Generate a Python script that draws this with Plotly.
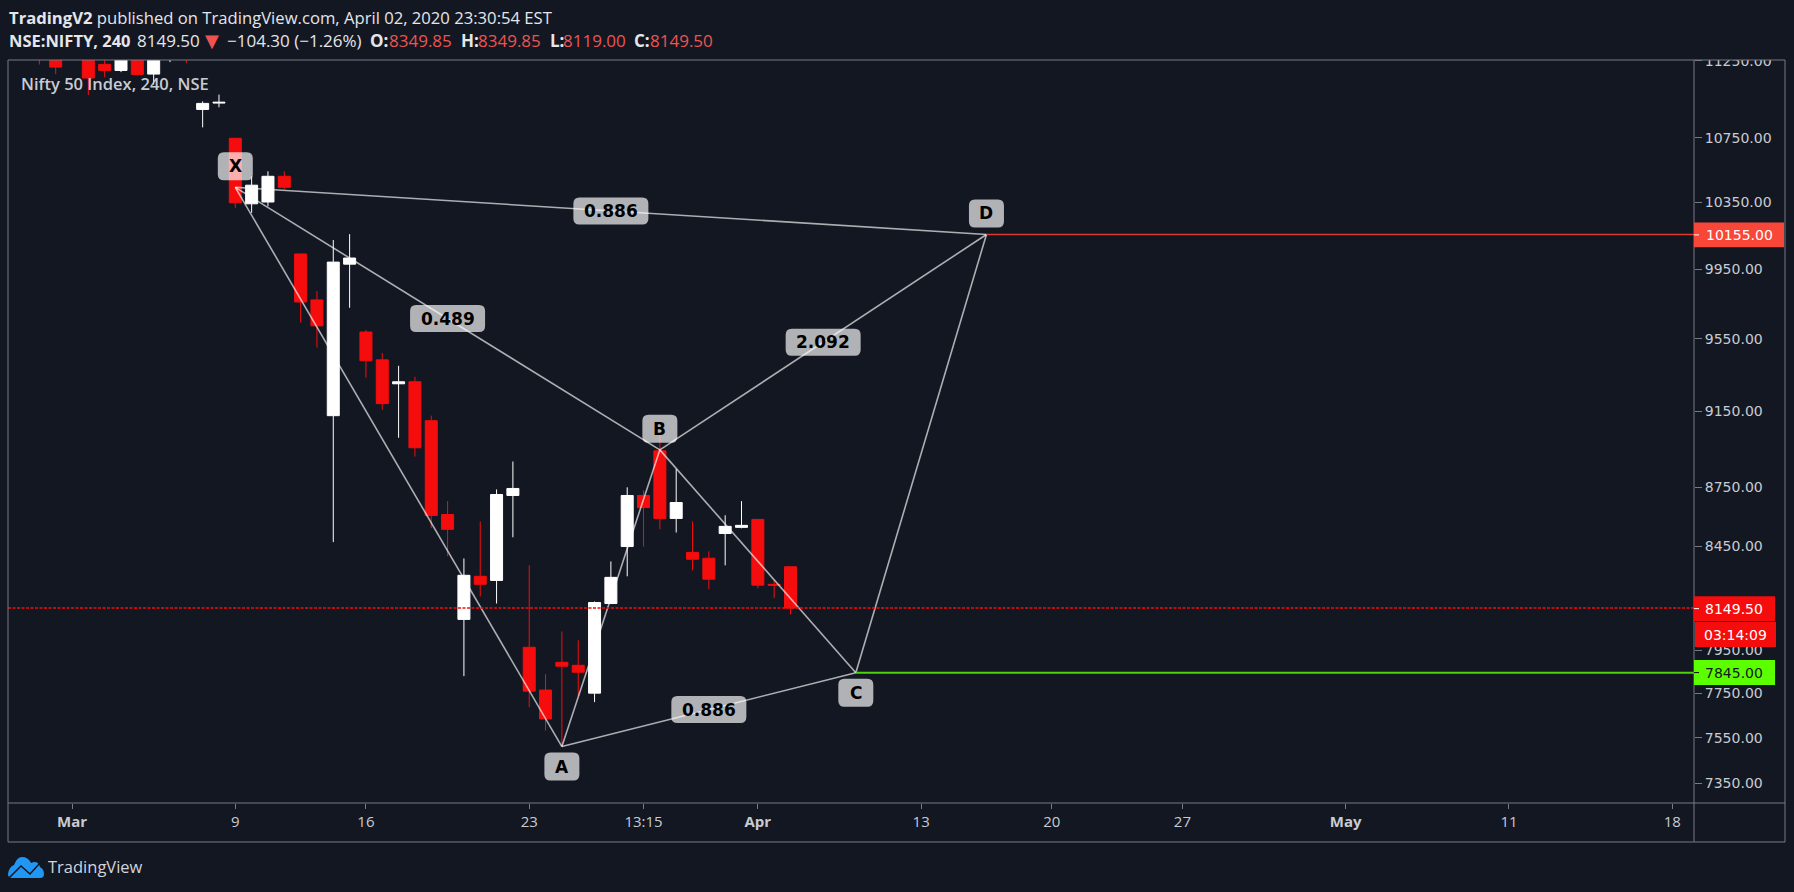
import math
import plotly.graph_objects as go

bg = "#131722"
red = "#F50D0D"
frame = "#787B86"
text_col = "#D1D4DC"
sans = "Open Sans"
mono = "DejaVu Sans"

# bars counted from the first bar of Mar 9
bar_index = list(range(-12, 35))
opens = [11320, 11300, 11320, 11320, 11225, 11185, 11300, 11161, 11280, 11300, 10931, 10972,
         10747, 10340, 10351, 10509, 10039, 9771, 9127, 9979, 9588, 9432, 9300, 9311, 9100,
         8611, 8095, 8303, 8283, 8708, 7963, 7765, 7893, 7879, 7751, 8171, 8450, 8708, 8940,
         8591, 8421, 8392, 8515, 8546, 8586, 8264, 8349.85]
highs = [11340, 11320, 11340, 11350, 11300, 11320, 11320, 11300, 11320, 11330, 10983, 11027,
         10747, 10509, 10540, 10540, 10039, 9822, 10122, 10157, 9599, 9470, 9399, 9338, 9127,
         8679, 8391, 8576, 8739, 8884, 8357, 7838, 8038, 7996, 8181, 8376, 8750, 8734, 9031,
         8844, 8576, 8426, 8607, 8679, 8586, 8283, 8349.85]
lows = [11224, 11161, 11260, 11024, 11140, 11174, 11152, 11092, 11240, 11233, 10816, 10945,
        10315, 10285, 10325, 10429, 9642, 9500, 8472, 9726, 9334, 9159, 9009, 8910, 8542,
        8402, 7829, 8205, 8171, 8496, 7687, 7582, 7511, 7737, 7710, 8171, 8303, 8450, 8536,
        8520, 8332, 8240, 8357, 8541, 8245, 8197, 8119]
closes = [11290, 11207, 11290, 11135, 11185, 11290, 11159, 11270, 11300, 11280, 10970, 10977,
          10346, 10454, 10509, 10441, 9759, 9623, 9991, 10015, 9427, 9192, 9311, 8956, 8606,
          8536, 8308, 8264, 8713, 8744, 7760, 7634, 7875, 7847, 8176, 8298, 8708, 8646, 8591,
          8672, 8387, 8289, 8551, 8556, 8260, 8260, 8149.5]

# harmonic pattern
pat_names = ["X", "A", "B", "C", "D"]
pat_bars = [0, 20, 26, 38, 46]
pat_prices = [10441, 7511, 8945, 7845, 10155]
pat_legs = [("X", "A"), ("A", "B"), ("B", "C"), ("C", "D"), ("B", "D"), ("X", "B"), ("X", "D"), ("A", "C")]
pat_ratios = [("X", "B", "0.489"), ("X", "D", "0.886"), ("A", "C", "0.886"), ("B", "D", "2.092")]

x_tick_bars = [-10, 0, 8, 18, 25, 32, 42, 50, 58, 68, 78, 88]
x_tick_text = ["<b>Mar</b>", "9", "16", "23", "13:15", "<b>Apr</b>", "13", "20", "27", "<b>May</b>", "11", "18"]
y_ticks = [11250, 10750, 10350, 9950, 9550, 9150, 8750, 8450, 7950, 7750, 7550, 7350]

last_price = 8149.5
upper_level = 10155
lower_level = 7845

L, R, T, B = 8, 1694, 59.5, 803


def px(x):
    return (x - L) / (R - L)


def py(y):
    return (B - y) / (B - T)


def round_rect(w, h, cy=0, r=6):
    a, b = w / 2, h / 2
    lo, hi = cy - b, cy + b
    return (f"M{-a + r},{lo} L{a - r},{lo} Q{a},{lo} {a},{lo + r} L{a},{hi - r} Q{a},{hi} {a - r},{hi} "
            f"L{-a + r},{hi} Q{-a},{hi} {-a},{hi - r} L{-a},{lo + r} Q{-a},{lo} {-a + r},{lo} Z")


def label(text, x, y, color=text_col, size=17, family=sans, weight=None):
    font = dict(family=family, size=size, color=color)
    if weight:
        font["weight"] = weight
    return dict(text=text, xref="paper", yref="paper", x=px(x - 1.5), y=py(y), xanchor="left", yanchor="middle",
                showarrow=False, font=font)


def frame_line(x0, y0, x1, y1, color=frame):
    return dict(type="line", xref="paper", yref="paper", x0=px(x0), y0=py(y0), x1=px(x1), y1=py(y1),
                line=dict(color=color, width=1), layer="above")


shapes = []
annotations = []


def tag(text, x0, x1, y0, y1, fill, color, tick=None):
    shapes.append(dict(type="rect", xref="paper", yref="paper", x0=px(x0), x1=px(x1), y0=py(y0), y1=py(y1),
                       fillcolor=fill, line=dict(width=0), layer="above"))
    if tick:
        shapes.append(frame_line(x0, (y0 + y1) / 2, x0 + 5, (y0 + y1) / 2, color=tick))
    annotations.append(dict(text=text, xref="paper", yref="paper", x=px((x0 + x1) / 2), y=py((y0 + y1) / 2),
                            xanchor="center", yanchor="middle", showarrow=False,
                            font=dict(family=mono, size=14, color=color)))


fig = go.Figure()

fig.add_trace(go.Candlestick(
    x=bar_index, open=opens, high=highs, low=lows, close=closes,
    increasing=dict(line=dict(color="#FFFFFF", width=1), fillcolor="#FFFFFF"),
    decreasing=dict(line=dict(color=red, width=1), fillcolor=red),
    showlegend=False, hoverinfo="skip",
))

where = dict(zip(pat_names, zip(pat_bars, pat_prices)))
leg_x, leg_y = [], []
for a, b in pat_legs:
    leg_x += [where[a][0], where[b][0], None]
    leg_y += [where[a][1], where[b][1], None]
fig.add_trace(go.Scatter(
    x=leg_x, y=leg_y, mode="lines", line=dict(color="rgba(255,255,255,0.65)", width=1.6),
    showlegend=False, hoverinfo="skip",
))

# level lines
shapes.append(dict(type="line", xref="paper", x0=0, x1=1, yref="y", y0=last_price, y1=last_price,
                   line=dict(color=red, width=1.4, dash="3px,1.5px"), layer="above"))
shapes.append(dict(type="line", xref="x", x0=pat_bars[3], x1=89.33, yref="y", y0=lower_level, y1=lower_level,
                   line=dict(color="#4CD30F", width=2), layer="above"))
shapes.append(dict(type="line", xref="x", x0=pat_bars[4], x1=89.33, yref="y", y0=upper_level, y1=upper_level,
                   line=dict(color="#E0392E", width=1.5), layer="above"))

# pattern point boxes
point_shift = {"X": 21, "A": -20, "B": 21, "C": -20, "D": 21}
for name, bar, price in zip(pat_names, pat_bars, pat_prices):
    shift = point_shift[name]
    shapes.append(dict(type="path", xsizemode="pixel", ysizemode="pixel", xref="x", yref="y", xanchor=bar,
                       yanchor=price, path=round_rect(35, 28, cy=shift), fillcolor="rgba(255,255,255,0.67)",
                       line=dict(width=0), layer="above"))
    annotations.append(dict(text=f"<b>{name}</b>", x=bar, y=math.log10(price), yshift=shift, xref="x", yref="y",
                            showarrow=False, font=dict(family=mono, size=17, color="#000000")))

# ratio boxes at the leg midpoints
for a, b, ratio in pat_ratios:
    mx = (where[a][0] + where[b][0]) / 2
    my = (math.log10(where[a][1]) + math.log10(where[b][1])) / 2
    shapes.append(dict(type="path", xsizemode="pixel", ysizemode="pixel", xref="x", yref="y", xanchor=mx,
                       yanchor=10 ** my, path=round_rect(75, 27), fillcolor="rgba(255,255,255,0.67)",
                       line=dict(width=0), layer="above"))
    annotations.append(dict(text=f"<b>{ratio}</b>", x=mx, y=my, xref="x", yref="y", showarrow=False,
                            font=dict(family=mono, size=17, color="#000000")))

# outer frame, and a mask that cuts the top price label
shapes.append(dict(type="rect", xref="paper", yref="paper", x0=px(1695), x1=px(1784), y0=py(59.5), y1=py(46),
                   fillcolor=bg, line=dict(width=0), layer="above"))
shapes.append(frame_line(8, 59.5, 1785, 59.5))
shapes.append(frame_line(1785, 59.5, 1785, 842))
shapes.append(frame_line(8, 842, 1785, 842))
shapes.append(frame_line(8, 59.5, 8, 842))
shapes.append(frame_line(8, 803, 1785, 803))
shapes.append(frame_line(1694, 59.5, 1694, 842))

# price tags on the axis
tag("8149.50", 1694, 1775, 596, 621, red, "#FFFFFF", tick="#FFFFFF")
tag("03:14:09", 1695, 1776, 622, 647, red, "#FFFFFF")
tag("7845.00", 1694, 1775, 660, 685, "#5CFF00", "#131722", tick="#000000")
tag("10155.00", 1694, 1784, 222, 247, "#F84638", "#FFFFFF", tick="#FFFFFF")


# logo
def pp(x, y):
    return f"{px(x):.5f},{py(y):.5f}"


cloud = (f"M{pp(8, 874)} Q{pp(9, 867)} {pp(14, 865)} Q{pp(17, 857)} {pp(22, 857)} Q{pp(28, 857)} {pp(31, 863)} "
         f"Q{pp(38, 860)} {pp(40, 867)} Q{pp(44, 869)} {pp(44, 874)} Q{pp(44, 878)} {pp(40, 878)} L{pp(12, 878)} "
         f"Q{pp(8, 878)} {pp(8, 874)} Z")
shapes.append(dict(type="path", xref="paper", yref="paper", path=cloud, fillcolor="#2196F3", line=dict(width=0),
                   layer="above"))
shapes.append(dict(type="path", xref="paper", yref="paper", path=f"M{pp(9, 878)} L{pp(21, 866)} L{pp(30, 874)} L{pp(40, 863)}",
                   line=dict(color=bg, width=1.5), layer="above"))

annotations += [
    label("<b>TradingV2</b> published on TradingView.com, April 02, 2020 23:30:54 EST", 8, 16.7, color="#E4E6EB", size=16.65),
    label("<b>NSE:NIFTY, 240</b>", 8, 40, color="#E4E6EB", size=16.5),
    label("8149.50", 136, 40, color="#E4E6EB"),
    label("▼", 204, 40, color="#EF5350", size=18, family=mono),
    label("−104.30 (−1.26%)", 226, 40, color="#E4E6EB"),
    label("<b>O:</b>", 369, 40, color="#E4E6EB"),
    label("8349.85", 388, 40, color="#EF5350"),
    label("<b>H:</b>", 460, 40, color="#E4E6EB"),
    label("8349.85", 477.5, 40, color="#EF5350"),
    label("<b>L:</b>", 549, 40, color="#E4E6EB"),
    label("8119.00", 562.5, 40, color="#EF5350"),
    label("<b>C:</b>", 633, 40, color="#E4E6EB"),
    label("8149.50", 649, 40, color="#EF5350"),
    label("Nifty 50 Index, 240, NSE", 20, 83, color="#C9CBD1", size=16.5, weight=600),
    label("TradingView", 47, 867, color=text_col, size=16.5),
]

fig.update_layout(
    width=1794, height=892,
    margin=dict(l=L, r=1794 - R, t=T, b=892 - B),
    paper_bgcolor=bg, plot_bgcolor=bg,
    boxgap=0.265, boxgroupgap=0,
    shapes=shapes, annotations=annotations,
    showlegend=False,
)
fig.update_xaxes(
    range=[-13.92, 89.33], rangeslider_visible=False, showgrid=False, zeroline=False,
    tickmode="array", tickvals=x_tick_bars, ticktext=x_tick_text,
    ticks="outside", ticklen=5, tickcolor=frame, tickfont=dict(family=sans, size=15, color="#C9CBD1"),
)
fig.update_yaxes(
    type="log", range=[math.log10(7265.3), math.log10(11254)], side="right", showgrid=False, zeroline=False,
    tickmode="array", tickvals=y_ticks, ticktext=[f"{v}.00" for v in y_ticks],
    ticks="outside", ticklen=7, tickcolor=frame, tickfont=dict(family=mono, size=14, color="#C9CBD1"),
)

fig.write_html("out.html", post_script="document.body.style.margin='0';", config=dict(displayModeBar=False))
